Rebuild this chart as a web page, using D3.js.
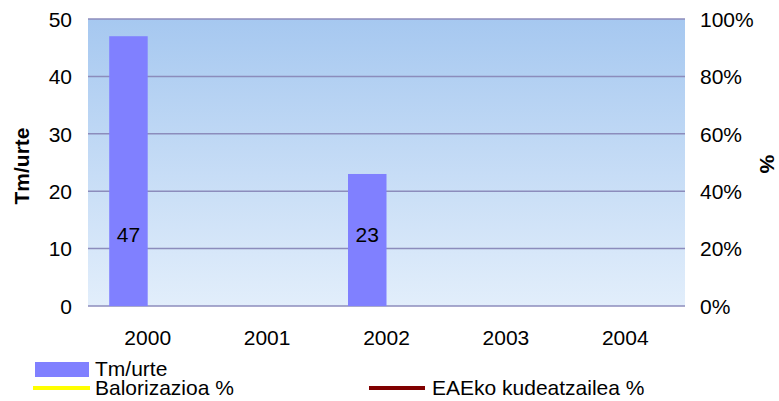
<!DOCTYPE html>
<html><head><meta charset="utf-8">
<script src="https://cdn.jsdelivr.net/npm/d3@7"></script>
<style>body{margin:0;background:#fff}svg{display:block}text{font-family:"Liberation Sans",Arial,sans-serif;fill:#000}</style>
</head><body><svg id="c" width="779" height="401"></svg>
<script>
const years = ["2000","2001","2002","2003","2004"];
const tmUrte = [47, null, 23, null, null];
const balorizazioa = [null, null, null, null, null];
const eaeko = [null, null, null, null, null];
const leftTicks = [0,10,20,30,40,50];
const rightTicks = [0,0.2,0.4,0.6,0.8,1.0];

const svg = d3.select("#c");
const L = 88, R = 685, T = 19, B = 306;
const FS = 21;
const x = d3.scaleBand().domain(years).range([L, R]);
const y = d3.scaleLinear().domain([0,50]).range([B, T]);
const y2 = d3.scaleLinear().domain([0,1]).range([B, T]);

const defs = svg.append("defs");
const g = defs.append("linearGradient").attr("id","bg").attr("x1",0).attr("y1",0).attr("x2",0).attr("y2",1);
g.append("stop").attr("offset","0%").attr("stop-color","#a6c8f0");
g.append("stop").attr("offset","100%").attr("stop-color","#e2eefb");
svg.append("rect").attr("x",L).attr("y",T).attr("width",R-L).attr("height",B-T).attr("fill","url(#bg)");

svg.append("g").selectAll("line").data(leftTicks).join("line")
  .attr("x1",L).attr("x2",R).attr("y1",d=>y(d)).attr("y2",d=>y(d))
  .attr("stroke","#8c8cbc").attr("stroke-width",1.5);

const bw = 38.5;
svg.append("g").selectAll("rect").data(years.map((yr,i)=>({yr,v:tmUrte[i]})).filter(d=>d.v!=null)).join("rect")
  .attr("x",d=>x(d.yr)+x.bandwidth()/2-bw).attr("width",bw)
  .attr("y",d=>y(d.v)).attr("height",d=>B-y(d.v)).attr("fill","#8080ff");

svg.append("g").selectAll("text").data(years.map((yr,i)=>({yr,v:tmUrte[i]})).filter(d=>d.v!=null)).join("text")
  .attr("x",d=>x(d.yr)+x.bandwidth()/2-bw/2).attr("y",B-64)
  .attr("text-anchor","middle").attr("font-size",FS).text(d=>d.v);

const lineGen = () => d3.line().defined(d=>d.v!=null).x(d=>x(d.yr)+x.bandwidth()/2).y(d=>y2(d.v));
svg.append("path").datum(years.map((yr,i)=>({yr,v:balorizazioa[i]}))).attr("d",lineGen()).attr("fill","none").attr("stroke","#ffff00").attr("stroke-width",3);
svg.append("path").datum(years.map((yr,i)=>({yr,v:eaeko[i]}))).attr("d",lineGen()).attr("fill","none").attr("stroke","#800000").attr("stroke-width",3);

// left axis
const ax = d3.axisLeft(y).tickValues(leftTicks).tickSize(0).tickPadding(16);
const ga = svg.append("g").attr("transform",`translate(${L},0)`).call(ax);
ga.select(".domain").remove();
ga.selectAll("text").attr("font-size",FS).attr("font-family",null).attr("dy","0.35em");
// right axis
const ax2 = d3.axisRight(y2).tickValues(rightTicks).tickSize(0).tickPadding(15).tickFormat(d3.format(".0%"));
const gb = svg.append("g").attr("transform",`translate(${R},0)`).call(ax2);
gb.select(".domain").remove();
gb.selectAll("text").attr("font-size",FS).attr("font-family",null).attr("dy","0.35em");
// x axis
const ax3 = d3.axisBottom(x).tickSize(0).tickPadding(39);
const gc = svg.append("g").attr("transform",`translate(0,${B})`).call(ax3);
gc.select(".domain").remove();
gc.selectAll("text").attr("font-size",FS).attr("font-family",null).attr("dy","0em");

svg.append("text").attr("transform","translate(29,166) rotate(-90)").attr("text-anchor","middle")
  .attr("font-size",FS).attr("font-weight","bold").text("Tm/urte");
svg.append("text").attr("transform","translate(760,164) rotate(90)").attr("text-anchor","middle")
  .attr("font-size",FS).attr("font-weight","bold").text("%");

// legend
svg.append("rect").attr("x",35).attr("y",362).attr("width",54).attr("height",15).attr("fill","#8080ff");
svg.append("text").attr("x",95).attr("y",376).attr("font-size",FS).text("Tm/urte");
svg.append("line").attr("x1",33).attr("x2",90).attr("y1",388).attr("y2",388).attr("stroke","#ffff00").attr("stroke-width",4);
svg.append("text").attr("x",95).attr("y",395).attr("font-size",FS).text("Balorizazioa %");
svg.append("line").attr("x1",369).attr("x2",425).attr("y1",388).attr("y2",388).attr("stroke","#800000").attr("stroke-width",4);
svg.append("text").attr("x",432).attr("y",395).attr("font-size",FS).text("EAEko kudeatzailea %");
</script></body></html>
